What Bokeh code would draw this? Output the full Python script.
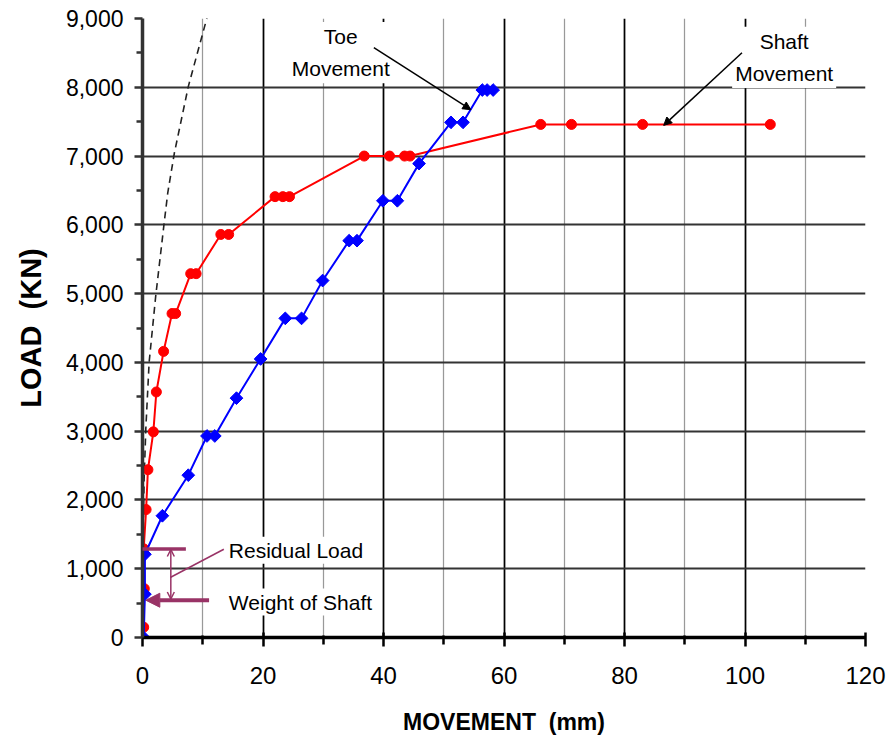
from bokeh.plotting import figure
from bokeh.models import (Range1d, FixedTicker, NumeralTickFormatter, Label, Arrow,
                          NormalHead, OpenHead, ColumnDataSource)
from bokeh.embed import file_html
from bokeh.resources import INLINE

# ---- data ----
shaft_movement = [0.2, 0.3, 0.2, 0.6, 0.9, 1.8, 2.3, 3.5, 4.9, 5.5, 8.0, 8.9, 13.0, 14.3,
                  22.0, 23.3, 24.4, 36.8, 41.0, 43.5, 44.4, 66.1, 71.2, 83.0, 104.2]
shaft_load = [150, 710, 1290, 1860, 2440, 2990, 3570, 4160, 4710, 4710, 5290, 5290, 5860, 5860,
              6410, 6410, 6410, 7000, 7000, 7000, 7000, 7460, 7460, 7460, 7460]
toe_movement = [0.2, 0.4, 0.4, 3.3, 7.6, 10.7, 12.0, 15.6, 19.6, 23.7, 26.4, 29.9, 34.3, 35.6,
                39.9, 42.3, 45.9, 51.2, 53.2, 56.4, 57.2, 58.2]
toe_load = [0, 630, 1210, 1770, 2360, 2930, 2930, 3480, 4050, 4640, 4640, 5190, 5770, 5770,
            6350, 6350, 6890, 7490, 7490, 7960, 7960, 7960]
elastic_movement = [0, 0.05, 0.15, 0.27, 0.55, 1.1, 2.2, 3.6, 4.2, 5.3, 7.6, 10.7, 11.6]
elastic_load = [0, 1000, 1700, 2300, 3030, 4000, 4970, 6030, 6470, 7050, 8010, 9010, 9280]

x_ticks = [0, 20, 40, 60, 80, 100, 120]
x_minor_ticks = [10, 30, 50, 70, 90, 110]
y_ticks = [0, 1000, 2000, 3000, 4000, 5000, 6000, 7000, 8000, 9000]
y_minor_ticks = [500, 1500, 2500, 3500, 4500, 5500, 6500, 7500, 8500]

PURPLE = "#993366"

p = figure(width=887, height=737, x_range=Range1d(0, 120), y_range=Range1d(0, 9000),
           output_backend="svg", toolbar_location=None,
           min_border_left=142, min_border_right=22, min_border_top=18, min_border_bottom=93)
p.outline_line_color = None
p.background_fill_color = "white"
p.border_fill_color = "white"

# axes
p.xaxis.ticker = FixedTicker(ticks=x_ticks, minor_ticks=x_minor_ticks)
p.yaxis.ticker = FixedTicker(ticks=y_ticks, minor_ticks=y_minor_ticks)
p.yaxis.formatter = NumeralTickFormatter(format="0,0")

p.xaxis.axis_line_color = "black"
p.xaxis.axis_line_width = 3.5
p.xaxis.major_tick_line_color = "black"
p.xaxis.major_tick_line_width = 2.5
p.xaxis.major_tick_in = 5
p.xaxis.major_tick_out = 9
p.xaxis.minor_tick_line_color = "black"
p.xaxis.minor_tick_line_width = 2.5
p.xaxis.minor_tick_in = 2
p.xaxis.minor_tick_out = 7
p.xaxis.major_label_text_font = "Liberation Sans Narrow, Liberation Sans"
p.xaxis.major_label_text_font_size = "24px"
p.xaxis.major_label_text_color = "black"
p.xaxis.major_label_standoff = 20
p.xaxis.axis_label = "MOVEMENT\u00a0\u00a0(mm)"
p.xaxis.axis_label_text_font = "Liberation Sans"
p.xaxis.axis_label_text_font_style = "bold"
p.xaxis.axis_label_text_font_size = "23px"
p.xaxis.axis_label_text_color = "black"
p.xaxis.axis_label_standoff = 22

p.yaxis.axis_line_color = "#333333"
p.yaxis.axis_line_width = 3.5
p.yaxis.major_tick_line_color = "#333333"
p.yaxis.major_tick_line_width = 2.5
p.yaxis.major_tick_in = 0
p.yaxis.major_tick_out = 8
p.yaxis.minor_tick_line_color = "#333333"
p.yaxis.minor_tick_line_width = 2.5
p.yaxis.minor_tick_in = 0
p.yaxis.minor_tick_out = 6
p.yaxis.major_label_text_font = "Liberation Sans"
p.yaxis.major_label_text_font_size = "23px"
p.yaxis.major_label_text_color = "black"
p.yaxis.major_label_standoff = 11
p.yaxis.axis_label = "LOAD\u00a0\u00a0(KN)"
p.yaxis.axis_label_text_font = "Liberation Sans"
p.yaxis.axis_label_text_font_style = "bold"
p.yaxis.axis_label_text_font_size = "29px"
p.yaxis.axis_label_text_color = "black"
p.yaxis.axis_label_standoff = 16

# grids
p.xgrid.grid_line_color = "black"
p.xgrid.grid_line_width = 1.75
p.xgrid.minor_grid_line_color = "#999999"
p.xgrid.minor_grid_line_width = 1.25
p.ygrid.grid_line_color = "#333333"
p.ygrid.grid_line_width = 2

# elastic compression reference (dashed)
p.line(elastic_movement, elastic_load, line_color="#222222", line_width=1.6, line_dash="7 5")

# shaft movement (red)
shaft = ColumnDataSource(dict(x=shaft_movement, y=shaft_load))
p.line("x", "y", source=shaft, line_color="#ff0000", line_width=2)
p.scatter("x", "y", source=shaft, marker="circle", size=10, fill_color="#ff0000",
          line_color="#ff0000")

# toe movement (blue)
toe = ColumnDataSource(dict(x=toe_movement, y=toe_load))
p.line("x", "y", source=toe, line_color="#0000ff", line_width=2)
p.scatter("x", "y", source=toe, marker="square", angle=0.785398, size=9,
          fill_color="#0000ff", line_color="#0000ff")

# annotations: Toe / Shaft movement
p.add_layout(Label(x=32.9, y=8950, text="Toe\nMovement", text_align="center",
                   text_baseline="top", text_font="Liberation Sans", text_font_size="21px",
                   text_line_height=1.4, text_color="black",
                   background_fill_color="white", padding=3))
p.add_layout(Arrow(end=NormalHead(size=8, fill_color="black", line_color="black"),
                   x_start=38.4, y_start=8575, x_end=54.5, y_end=7674,
                   line_color="black", line_width=1.5))
p.add_layout(Label(x=106.5, y=8880, text="Shaft\nMovement", text_align="center",
                   text_baseline="top", text_font="Liberation Sans", text_font_size="21px",
                   text_line_height=1.4, text_color="black",
                   background_fill_color="white", padding=3))
p.add_layout(Arrow(end=NormalHead(size=8, fill_color="black", line_color="black"),
                   x_start=99.5, y_start=8503, x_end=86.5, y_end=7446,
                   line_color="black", line_width=1.5))

# annotations: residual load / weight of shaft
p.add_layout(Label(x=14.0, y=1270, text="Residual Load", text_align="left",
                   text_baseline="alphabetic", text_font="Liberation Sans",
                   text_font_size="21px", text_color="black",
                   background_fill_color="white", padding=2))
p.add_layout(Label(x=14.0, y=515, text="Weight of Shaft", text_align="left",
                   text_baseline="alphabetic", text_font="Liberation Sans",
                   text_font_size="21px", text_color="black",
                   background_fill_color="white", padding=2))
p.add_layout(Arrow(end=None, x_start=-0.6, y_start=1285, x_end=7.2, y_end=1285,
                   line_color=PURPLE, line_width=3.5))
p.add_layout(Arrow(start=OpenHead(size=7, line_color=PURPLE, line_width=1.5),
                   end=OpenHead(size=7, line_color=PURPLE, line_width=1.5),
                   x_start=4.7, y_start=560, x_end=4.7, y_end=1280,
                   line_color=PURPLE, line_width=1.5))
p.add_layout(Arrow(end=None, x_start=13.5, y_start=1283, x_end=4.6, y_end=872,
                   line_color=PURPLE, line_width=1.5))
p.add_layout(Arrow(end=NormalHead(size=14, fill_color=PURPLE, line_color=PURPLE),
                   x_start=11.05, y_start=542, x_end=0.55, y_end=542,
                   line_color=PURPLE, line_width=4))

open("out.html", "w").write(file_html(p, INLINE))
